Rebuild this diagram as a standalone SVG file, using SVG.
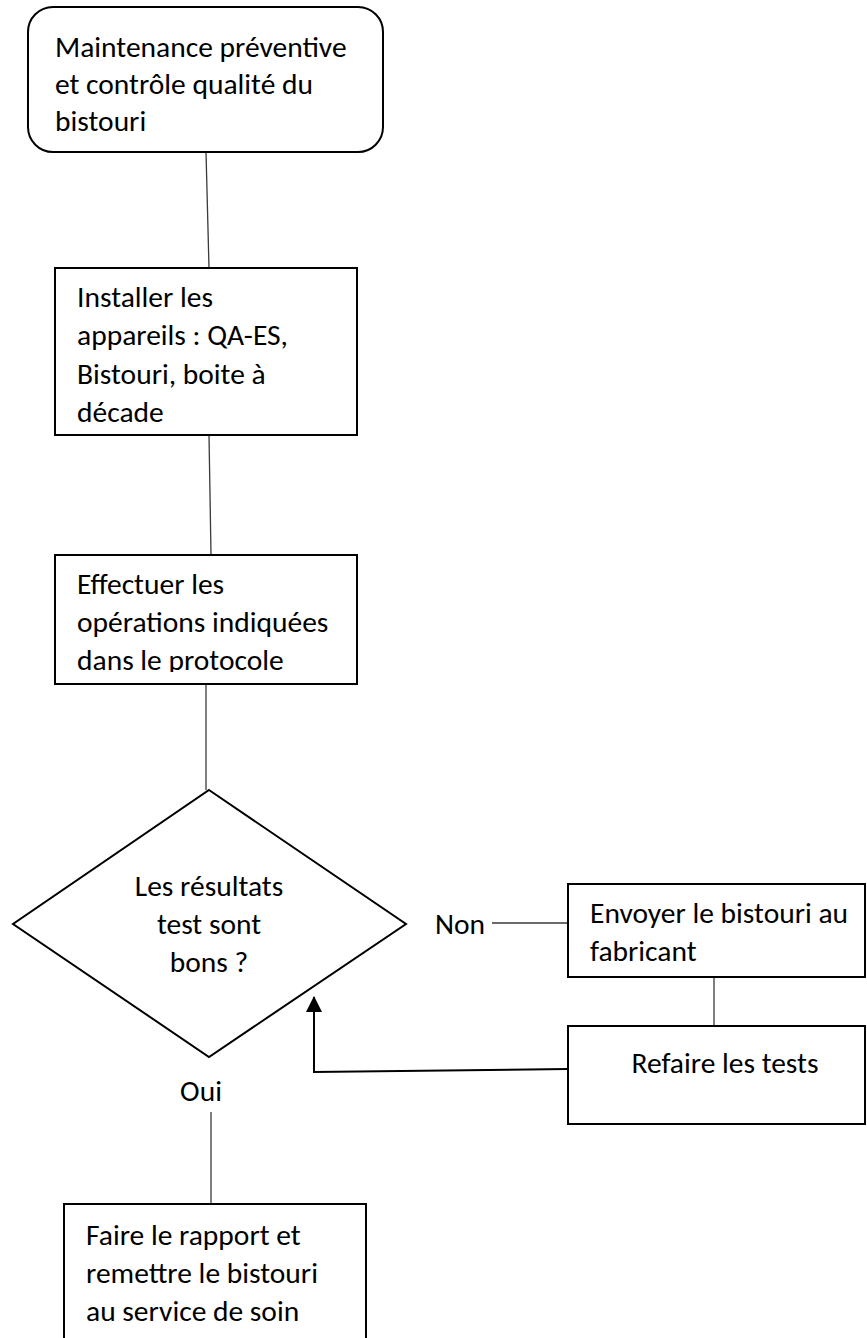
<svg xmlns="http://www.w3.org/2000/svg" width="867" height="1338" viewBox="0 0 867 1338">
<style>
.box{fill:#fff;stroke:#000;stroke-width:2}
.t{font-family:Carlito,Lato,"Liberation Sans",sans-serif;font-size:29.5px;fill:#000}
.c{stroke:#3a3a3a;stroke-width:1.3;fill:none}
.a{stroke:#000;stroke-width:2;fill:none}
</style>
<defs>
<marker id="arr" markerWidth="8" markerHeight="8" refX="7.5" refY="4" orient="auto" markerUnits="strokeWidth">
<path d="M0,0 L8,4 L0,8 Z" fill="#000"/>
</marker>
<clipPath id="clip3"><rect x="55" y="555" width="302" height="117"/></clipPath>
</defs>
<rect width="867" height="1338" fill="#fff"/>
<g id="connectors">
<line class="c" x1="206" y1="152" x2="209" y2="268"/>
<line class="c" x1="209" y1="435" x2="211" y2="555"/>
<line class="c" x1="206" y1="684" x2="206" y2="790"/>
<line class="c" x1="211" y1="1112" x2="211" y2="1204"/>
<line class="c" x1="492" y1="923" x2="568" y2="923"/>
<line class="c" x1="714" y1="977" x2="714" y2="1026"/>
<polyline class="a" points="568,1069 314,1072 314,997" marker-end="url(#arr)"/>
<text class="t" x="435" y="934">Non</text>
<text class="t" x="201" y="1101" text-anchor="middle">Oui</text>
</g>
<g id="n1">
<rect class="box" x="28" y="7" width="355" height="145" rx="25" ry="25"/>
<text class="t" x="55" y="57">Maintenance préventive</text>
<text class="t" x="55" y="94">et contrôle qualité du</text>
<text class="t" x="55" y="131">bistouri</text>
</g>
<g id="n2">
<rect class="box" x="55" y="268" width="302" height="167"/>
<text class="t" x="77" y="307">Installer les</text>
<text class="t" x="77" y="345">appareils : QA-ES,</text>
<text class="t" x="77" y="384">Bistouri, boite à</text>
<text class="t" x="77" y="422">décade</text>
</g>
<g id="n3">
<rect class="box" x="55" y="555" width="302" height="129"/>
<g clip-path="url(#clip3)">
<text class="t" x="77" y="594">Effectuer les</text>
<text class="t" x="77" y="632">opérations indiquées</text>
<text class="t" x="77" y="670">dans le protocole</text>
</g>
</g>
<g id="n4">
<polygon class="box" points="209,790 406,924 209,1057 13,924"/>
<text class="t" x="209" y="896" text-anchor="middle">Les résultats</text>
<text class="t" x="209" y="934" text-anchor="middle">test sont</text>
<text class="t" x="209" y="972" text-anchor="middle">bons ?</text>
</g>
<g id="n5">
<rect class="box" x="568" y="884" width="297" height="93"/>
<text class="t" x="590" y="923">Envoyer le bistouri au</text>
<text class="t" x="590" y="961">fabricant</text>
</g>
<g id="n6">
<rect class="box" x="568" y="1026" width="297" height="98"/>
<text class="t" x="725" y="1073" text-anchor="middle">Refaire les tests</text>
</g>
<g id="n7">
<rect class="box" x="64" y="1204" width="302" height="150"/>
<text class="t" x="86" y="1245">Faire le rapport et</text>
<text class="t" x="86" y="1283">remettre le bistouri</text>
<text class="t" x="86" y="1321">au service de soin</text>
</g>
</svg>
